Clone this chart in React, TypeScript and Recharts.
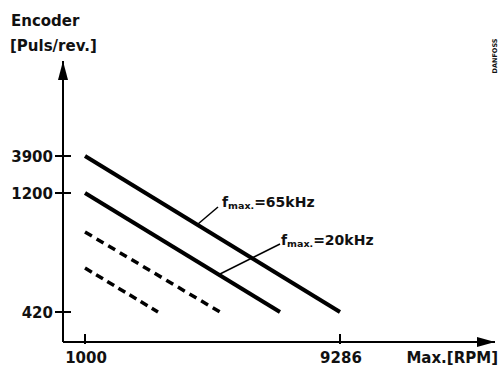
import React from 'react';
import { ComposedChart, Line, XAxis, YAxis } from 'recharts';

// ---- data ----
const xTickValues = [1000, 9286];
const xTickLabels = ['1000', '9286'];
const yTickLevels = [30, 149, 186];
const yTickLabels = ['420', '1200', '3900'];

const series65kHz = [
  { x: 1000, y: 186 },
  { x: 9286, y: 30 },
];
const series20kHz = [
  { x: 1000, y: 149 },
  { x: 7336, y: 30 },
];
const seriesDashA = [
  { x: 1000, y: 110 },
  { x: 5387, y: 30 },
];
const seriesDashB = [
  { x: 1000, y: 74 },
  { x: 3372, y: 30 },
];

const xDomain: [number, number] = [285, 14323];
const yDomain: [number, number] = [0, 281];

// ---- layout ----
const W = 500;
const H = 367;
const PLOT_LEFT = 63;
const PLOT_TOP = 61;
const PLOT_BOTTOM = 342;
const PLOT_RIGHT = 495;
const FONT = '"DejaVu Sans", sans-serif';

const YTick = (props: any) => {
  const { y, payload } = props;
  const i = yTickLevels.indexOf(payload.value);
  return (
    <g>
      <line x1={PLOT_LEFT - 8} x2={PLOT_LEFT + 8} y1={y} y2={y} stroke="#000" strokeWidth={2} />
      <text x={PLOT_LEFT - 10} y={y + 5.5} textAnchor="end" fontFamily={FONT} fontWeight="bold" fontSize={15} fill="#111">
        {yTickLabels[i]}
      </text>
    </g>
  );
};

const XTick = (props: any) => {
  const { x, payload } = props;
  const i = xTickValues.indexOf(payload.value);
  return (
    <g>
      <line x1={x} x2={x} y1={PLOT_BOTTOM - 8} y2={PLOT_BOTTOM + 2} stroke="#000" strokeWidth={2} />
      <text x={x + 1} y={PLOT_BOTTOM + 21} textAnchor="middle" fontFamily={FONT} fontWeight="bold" fontSize={15} fill="#111">
        {xTickLabels[i]}
      </text>
    </g>
  );
};

export default function App() {
  return (
    <div style={{ position: 'absolute', left: 0, top: 0, width: W, height: H, background: '#fff' }}>
      <ComposedChart
        width={W}
        height={H}
        margin={{ top: PLOT_TOP, right: W - PLOT_RIGHT, bottom: 0, left: 0 }}
      >
        <XAxis
          type="number"
          dataKey="x"
          domain={xDomain}
          allowDataOverflow
          ticks={xTickValues}
          interval={0}
          height={H - PLOT_BOTTOM}
          axisLine={{ stroke: '#000', strokeWidth: 2 }}
          tickLine={false}
          tick={<XTick />}
        />
        <YAxis
          type="number"
          dataKey="y"
          domain={yDomain}
          allowDataOverflow
          ticks={yTickLevels}
          interval={0}
          width={PLOT_LEFT}
          axisLine={{ stroke: '#000', strokeWidth: 2 }}
          tickLine={false}
          tick={<YTick />}
        />
        <Line data={series65kHz} dataKey="y" stroke="#000" strokeWidth={4} dot={false} isAnimationActive={false} strokeLinecap="butt" />
        <Line data={series20kHz} dataKey="y" stroke="#000" strokeWidth={4} dot={false} isAnimationActive={false} strokeLinecap="butt" />
        <Line data={seriesDashA} dataKey="y" stroke="#000" strokeWidth={3.5} strokeDasharray="8 5.5" dot={false} isAnimationActive={false} strokeLinecap="butt" />
        <Line data={seriesDashB} dataKey="y" stroke="#000" strokeWidth={3.5} strokeDasharray="8 5" dot={false} isAnimationActive={false} strokeLinecap="butt" />
      </ComposedChart>
      <svg width={W} height={H} style={{ position: 'absolute', left: 0, top: 0, pointerEvents: 'none' }}>
        {/* axis arrows */}
        <polygon points={`${PLOT_LEFT},${PLOT_TOP} ${PLOT_LEFT - 5},${PLOT_TOP + 19} ${PLOT_LEFT + 5},${PLOT_TOP + 19}`} fill="#000" />
        <polygon points={`${PLOT_RIGHT},${PLOT_BOTTOM} ${PLOT_RIGHT - 18},${PLOT_BOTTOM - 5} ${PLOT_RIGHT - 18},${PLOT_BOTTOM + 5}`} fill="#000" />
        {/* axis titles */}
        <text x={11} y={26} fontFamily={FONT} fontWeight="bold" fontSize={15} fill="#111">Encoder</text>
        <text x={10} y={51} fontFamily={FONT} fontWeight="bold" fontSize={15} fill="#111">[Puls/rev.]</text>
        <text x={498} y={363} textAnchor="end" fontFamily={FONT} fontWeight="bold" fontSize={15} fill="#111">Max.[RPM]</text>
        {/* DANFOSS mark */}
        <text x={0} y={0} transform="translate(497,56) rotate(-90)" textAnchor="middle" fontFamily={FONT} fontWeight="bold" fontSize={6.5} fill="#111">DANFOSS</text>
        {/* annotations */}
        <line x1={198} y1={224} x2={218} y2={207} stroke="#000" strokeWidth={1.5} />
        <text x={222} y={207} fontFamily={FONT} fontWeight="bold" fontSize={14} fill="#111">
          f<tspan fontSize={9.5} dy={2}>max.</tspan><tspan dy={-2}>=65kHz</tspan>
        </text>
        <line x1={220} y1={274} x2={280} y2={244} stroke="#000" strokeWidth={1.5} />
        <text x={281} y={245} fontFamily={FONT} fontWeight="bold" fontSize={14} fill="#111">
          f<tspan fontSize={9.5} dy={2}>max.</tspan><tspan dy={-2}>=20kHz</tspan>
        </text>
      </svg>
    </div>
  );
}
